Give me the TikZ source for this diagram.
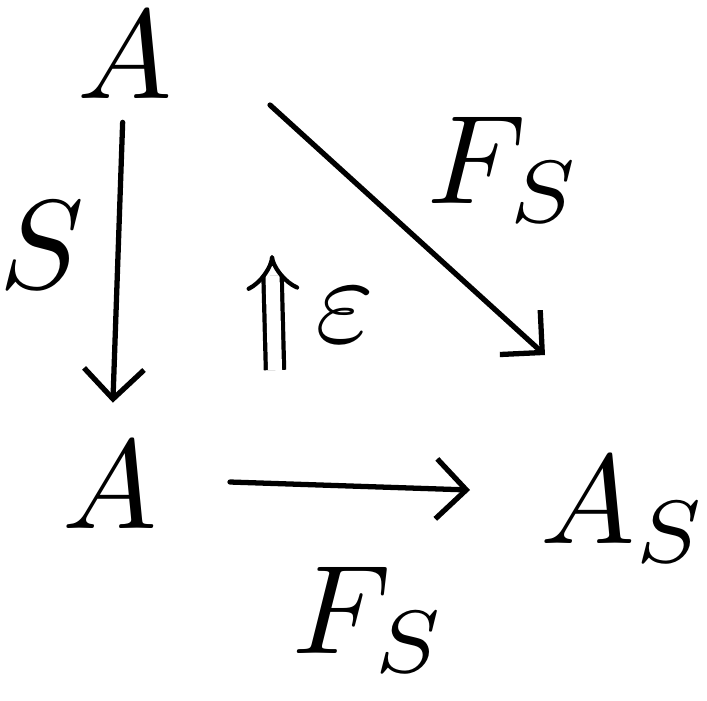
\documentclass[tikz,border=0pt]{standalone}
\usetikzlibrary{arrows.meta}
\begin{document}
\begin{tikzpicture}[x=1cm,y=1cm,
  obj/.style={scale=3.6,inner sep=0.6mm},
  lbl/.style={scale=3.6,inner sep=0pt},
  arr/.style={line width=1.5pt,line cap=round,-{Straight Barb[length=3mm,width=6mm]}}]
\useasboundingbox (0,0) rectangle (7.07,7.00);
\node[obj] (aTop) at (1.25,6.45) {$A$};
\node[obj] (aLeft) at (1.10,2.15) {$A$};
\node[obj] (aS) at (6.25,1.90) {$A_S$};
\node[lbl] (lS) at (0.42,4.55) {$S$};
\node[lbl] (lFup) at (5.05,5.30) {$F_S$};
\node[lbl] (lFlow) at (3.70,0.80) {$F_S$};
\node[lbl] (lEps) at (3.45,3.85) {$\varepsilon$};
\coordinate (eLow) at (2.75,3.30);
\coordinate (eHigh) at (2.72,4.45);
\draw[arr,shorten >=1.5mm] (aTop) -- (aLeft);
\draw[arr] ([shift={(1.45,-0.50)}]aTop.center) -- ([shift={(-0.80,1.55)}]aS.center);
\draw[arr] ([shift={(1.20,0.03)}]aLeft.center) -- ([shift={(-1.55,0.20)}]aS.center);
\draw[line width=1.2pt,double,double distance=4pt,-{Implies}] (eLow) -- (eHigh);
\end{tikzpicture}
\end{document}
